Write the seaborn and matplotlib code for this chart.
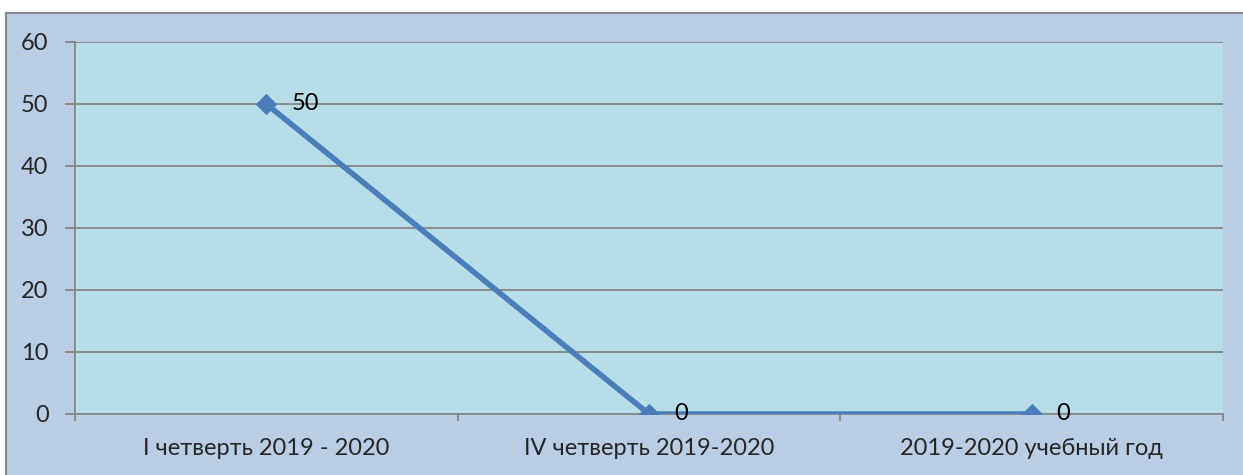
import matplotlib
matplotlib.use("Agg")
import matplotlib.pyplot as plt
import pandas as pd
import seaborn as sns

categories = ["I четверть 2019 - 2020", "IV четверть 2019-2020", "2019-2020 учебный год"]
values = [50, 0, 0]
y_ticks = [0, 10, 20, 30, 40, 50, 60]

OUTER_BG = "#B9CDE5"
PLOT_BG = "#B7DDE8"
LINE_COLOR = "#4A7EBB"
GRID_COLOR = "#868686"

sns.set_style("white")
plt.rcParams["font.family"] = ["Lato", "DejaVu Sans"]

df = pd.DataFrame({"pos": range(len(categories)), "value": values})

fig = plt.figure(figsize=(12.43, 4.75), dpi=100, facecolor="white")
# внешняя рамка диаграммы
frame = plt.Rectangle((6 / 1243, -0.01), 1.01 - 6 / 1243, 1.01 - 13 / 475, transform=fig.transFigure,
                      facecolor=OUTER_BG, edgecolor=GRID_COLOR, linewidth=1.5, zorder=-1)
fig.patches.append(frame)

ax = fig.add_axes([75 / 1243, 1 - 414 / 475, (1223 - 75) / 1243, (414 - 42) / 475], zorder=1)
ax.set_facecolor(PLOT_BG)

sns.lineplot(data=df, x="pos", y="value", ax=ax, color=LINE_COLOR, linewidth=4,
             marker="D", markersize=10, markeredgecolor=LINE_COLOR, zorder=3)

for i, v in enumerate(values):
    ax.annotate(str(v), (i, v), xytext=(18, 0), textcoords="offset points",
                va="center", ha="left", fontsize=17, color="black", zorder=4)

ax.set_xlim(-0.5, len(categories) - 0.5)
ax.set_ylim(0, 60)
ax.set_yticks(y_ticks)
ax.set_xticks(range(len(categories)))
ax.set_xticklabels(categories)
ax.set_xticks([-0.5, 0.5, 1.5, 2.5], minor=True)
ax.grid(axis="y", color=GRID_COLOR, linewidth=1.3)
ax.set_axisbelow(True)

for side in ["top", "right"]:
    ax.spines[side].set_visible(False)
for side in ["left", "bottom"]:
    ax.spines[side].set_color(GRID_COLOR)
    ax.spines[side].set_linewidth(1.3)

ax.tick_params(axis="y", length=7, width=1.3, color=GRID_COLOR, labelsize=17, pad=12, left=True)
ax.tick_params(axis="x", which="major", length=0, labelsize=17, pad=17)
ax.tick_params(axis="x", which="minor", length=5, width=1.3, color=GRID_COLOR, bottom=True)
ax.set_xlabel("")
ax.set_ylabel("")

fig.savefig("out.png", dpi=100, facecolor="white")
